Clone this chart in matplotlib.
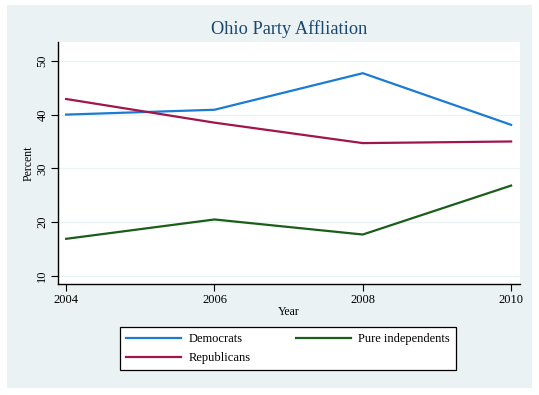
import matplotlib
matplotlib.use("Agg")
from matplotlib import pyplot as plt
from matplotlib.patches import Rectangle

# Ohio party affiliation, percent by year
years = [2004, 2006, 2008, 2010]
democrats = [40.0, 40.9, 47.7, 38.1]
republicans = [42.9, 38.5, 34.7, 35.0]
independents = [16.9, 20.5, 17.7, 26.8]

W, H = 539, 395
plt.rcParams['font.family'] = ['Liberation Serif', 'DejaVu Serif']

fig = plt.figure(figsize=(W / 100, H / 100), dpi=100)
fig.patch.set_facecolor('white')

# graph region (stata light blue-gray) on a background axes
bg = fig.add_axes([0, 0, 1, 1], zorder=-1)
bg.set_xlim(0, W)
bg.set_ylim(H, 0)
bg.axis('off')
bg.add_patch(Rectangle((7, 5), 532 - 7, 388 - 5, facecolor='#EAF2F3', edgecolor='none'))

ax = fig.add_axes([58 / W, 1 - 284 / H, (520 - 58) / W, (284 - 42) / H], zorder=1)
ax.set_facecolor('white')

ax.plot(years, democrats, color='#1B7BD3', lw=1.6, label='Democrats')
ax.plot(years, republicans, color='#A0154B', lw=1.6, label='Republicans')
ax.plot(years, independents, color='#1A5E1A', lw=1.6, label='Pure independents')

ax.set_xlim(2003.89, 2010.12)
ax.set_ylim(8.5, 53.5)
ax.set_xticks([2004, 2006, 2008, 2010])
ax.set_yticks([10, 20, 30, 40, 50])
ax.yaxis.grid(True, color='#EAF2F3', lw=0.9)
ax.set_axisbelow(True)

for s in ['top', 'right']:
    ax.spines[s].set_visible(False)
for s in ['left', 'bottom']:
    ax.spines[s].set_linewidth(1.0)
    ax.spines[s].set_color('black')

ax.tick_params(direction='out', length=5, width=0.8, labelsize=9, pad=2)
for lab in ax.get_yticklabels():
    lab.set_rotation(90)
    lab.set_va('center')

ax.set_xlabel('Year', fontsize=8.5, labelpad=0)
ax.set_ylabel('Percent', fontsize=8.5, labelpad=1)

fig.text(289 / W, 1 - 29 / H, 'Ohio Party Affliation', ha='center', va='center',
         fontsize=13.2, color='#1A476F')

leg = fig.legend(loc='center', bbox_to_anchor=(288 / W, 1 - 348.5 / H), ncol=2,
                 fontsize=9, frameon=True, fancybox=False, edgecolor='black',
                 framealpha=1, handlelength=4.4, columnspacing=3.6, handletextpad=0.6,
                 labelspacing=0.55, borderpad=0.45, borderaxespad=0)
leg.get_frame().set_linewidth(0.9)

fig.savefig('out.png', dpi=100)
